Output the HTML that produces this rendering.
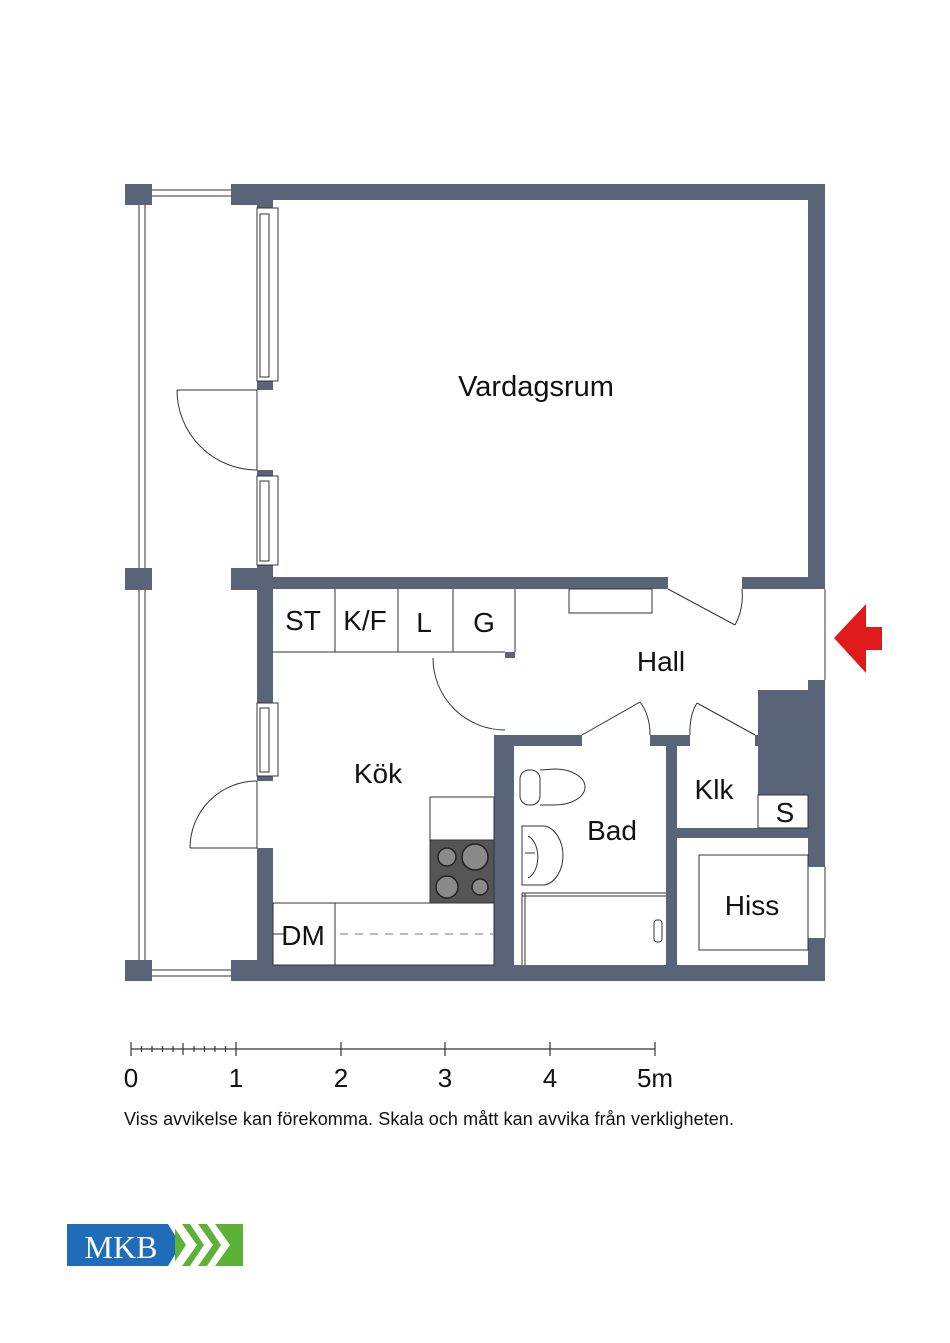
<!DOCTYPE html>
<html><head><meta charset="utf-8"><style>
html,body{margin:0;padding:0;background:#fff;}
svg{display:block;}
text{font-family:"Liberation Sans",sans-serif;fill:#111;}
</style></head><body>
<svg width="950" height="1343" viewBox="0 0 950 1343" xmlns="http://www.w3.org/2000/svg">
<g fill="#5a6478" stroke="none">
 <rect x="231" y="184" width="594" height="16"/>
 <rect x="231" y="184" width="42" height="21"/>
 <rect x="808" y="184" width="17" height="405"/>
 <rect x="257" y="200" width="16" height="8"/>
 <rect x="257" y="381" width="16" height="9"/>
 <rect x="257" y="470" width="16" height="6"/>
 <rect x="257" y="565" width="16" height="25"/>
 <rect x="231" y="568" width="42" height="22"/>
 <rect x="257" y="577" width="411" height="12"/>
 <rect x="742" y="577" width="83" height="12"/>
 <rect x="257" y="590" width="16" height="113"/>
 <rect x="257" y="776" width="16" height="5"/>
 <rect x="257" y="848" width="16" height="133"/>
 <rect x="231" y="965" width="594" height="16"/>
 <rect x="231" y="960" width="42" height="21"/>
 <rect x="494" y="735" width="20" height="235"/>
 <rect x="494" y="735" width="88" height="11"/>
 <rect x="505" y="652" width="10" height="6"/>
 <rect x="650" y="735" width="40" height="11"/>
 <rect x="666" y="735" width="11" height="235"/>
 <rect x="666" y="828" width="150" height="10"/>
 <rect x="758" y="690" width="67" height="105"/>
 <rect x="808" y="680" width="17" height="187"/>
 <rect x="808" y="938" width="17" height="43"/>
 <rect x="755" y="735" width="6" height="11"/>
 <rect x="125" y="184" width="27" height="21"/>
 <rect x="125" y="568" width="27" height="22"/>
 <rect x="125" y="960" width="27" height="21"/>
</g>
<g fill="none" stroke="#333" stroke-width="1">
 <line x1="139" y1="205" x2="139" y2="568"/><line x1="145" y1="205" x2="145" y2="568"/>
 <line x1="139" y1="590" x2="139" y2="960"/><line x1="145" y1="590" x2="145" y2="960"/>
 <line x1="152" y1="190" x2="231" y2="190"/><line x1="152" y1="196" x2="231" y2="196"/>
 <line x1="152" y1="970" x2="231" y2="970"/><line x1="152" y1="976" x2="231" y2="976"/>
 <rect x="257" y="208" width="21" height="173"/><rect x="260" y="214" width="9" height="163"/>
 <rect x="257" y="476" width="21" height="89"/><rect x="260" y="481" width="9" height="80"/>
 <rect x="257" y="703" width="21" height="73"/><rect x="260" y="708" width="9" height="64"/>
 <line x1="257" y1="390" x2="257" y2="470"/>
 <line x1="177" y1="390" x2="257" y2="390"/>
 <path d="M177 390 A80 80 0 0 0 257 470"/>
 <line x1="257" y1="781" x2="257" y2="848"/>
 <line x1="190" y1="848" x2="257" y2="848"/>
 <path d="M257 781 A67 67 0 0 0 190 848"/>
 <line x1="273" y1="652" x2="505" y2="652"/>
 <line x1="335" y1="589" x2="335" y2="652"/>
 <line x1="398" y1="589" x2="398" y2="652"/>
 <line x1="453" y1="589" x2="453" y2="652"/>
 <line x1="515" y1="589" x2="515" y2="652"/>
 <path d="M433 658 A72 72 0 0 0 505 730"/>
 <rect x="430" y="797" width="64" height="43"/>
 <rect x="273" y="903" width="221" height="62"/>
 <line x1="335" y1="903" x2="335" y2="965"/>
 <line x1="273" y1="934" x2="284" y2="934"/>
 <line x1="340" y1="934" x2="494" y2="934" stroke="#777" stroke-dasharray="8,7"/>
 <rect x="569" y="589" width="83" height="24"/>
 <line x1="668" y1="589" x2="735" y2="625"/>
 <path d="M735 625 Q744 608 742 589"/>
 <line x1="582" y1="735" x2="640" y2="702"/>
 <path d="M640 702 Q650 715 650 735"/>
 <line x1="755" y1="735" x2="697" y2="703"/>
 <path d="M697 703 Q689 716 690 735"/>
 <line x1="825" y1="589" x2="825" y2="680"/>
 <line x1="825" y1="867" x2="825" y2="938"/>
 <rect x="758" y="795" width="50" height="33" fill="#fff"/>
 <rect x="699" y="855" width="109" height="95"/>
 <rect x="520" y="770" width="20" height="35" rx="9"/>
 <path d="M540 770 L555 769 A30 18 0 0 1 555 805 L540 805"/>
 <path d="M522 826 L545 826 A22 30 0 0 1 545 885 L522 885 Z"/>
 <path d="M528 836 A14 22 0 0 1 528 878"/>
 <line x1="525" y1="853" x2="535" y2="853"/>
 <line x1="522" y1="893" x2="666" y2="893"/><line x1="522" y1="896" x2="666" y2="896"/>
 <line x1="522" y1="893" x2="522" y2="965"/><line x1="525" y1="893" x2="525" y2="965"/>
 <rect x="654" y="920" width="8" height="22" rx="3"/>
</g>
<rect x="430" y="840" width="64" height="63" fill="#555" stroke="#333"/>
<g fill="#8a8a8a" stroke="#222" stroke-width="1.5">
 <circle cx="447" cy="857" r="9"/><circle cx="475" cy="857" r="13"/>
 <circle cx="447" cy="887" r="11"/><circle cx="480" cy="887" r="8"/>
</g>
<polygon points="834,638 866,604 866,627 882,627 882,650 866,650 866,673" fill="#e0191b"/>
<g font-size="29" text-anchor="middle">
 <text x="536" y="396">Vardagsrum</text>
</g>
<g font-size="28" text-anchor="middle">
 <text x="661" y="671">Hall</text>
 <text x="378" y="783">Kök</text>
 <text x="612" y="840">Bad</text>
 <text x="714" y="799">Klk</text>
 <text x="785" y="822">S</text>
 <text x="752" y="915">Hiss</text>
 <text x="303" y="945">DM</text>
 <text x="303" y="630">ST</text>
 <text x="365" y="630">K/F</text>
 <text x="424" y="632">L</text>
 <text x="484" y="632">G</text>
</g>
<g stroke="#333" stroke-width="1.2">
 <line x1="131" y1="1049" x2="655" y2="1049"/>
 <line x1="131" y1="1042" x2="131" y2="1056"/><line x1="236" y1="1042" x2="236" y2="1056"/>
 <line x1="341" y1="1042" x2="341" y2="1056"/><line x1="445" y1="1042" x2="445" y2="1056"/>
 <line x1="550" y1="1042" x2="550" y2="1056"/><line x1="655" y1="1042" x2="655" y2="1056"/>
 <line x1="183" y1="1043" x2="183" y2="1055"/>
 <line x1="141.5" y1="1046" x2="141.5" y2="1052"/><line x1="152" y1="1046" x2="152" y2="1052"/>
 <line x1="162.5" y1="1046" x2="162.5" y2="1052"/><line x1="173" y1="1046" x2="173" y2="1052"/>
 <line x1="194" y1="1046" x2="194" y2="1052"/><line x1="204.5" y1="1046" x2="204.5" y2="1052"/>
 <line x1="215" y1="1046" x2="215" y2="1052"/><line x1="225.5" y1="1046" x2="225.5" y2="1052"/>
</g>
<g font-size="26" text-anchor="middle">
 <text x="131" y="1087">0</text><text x="236" y="1087">1</text><text x="341" y="1087">2</text>
 <text x="445" y="1087">3</text><text x="550" y="1087">4</text><text x="655" y="1087">5m</text>
</g>
<text x="124" y="1125" font-size="18" textLength="610">Viss avvikelse kan förekomma. Skala och mått kan avvika från verkligheten.</text>
<polygon points="67,1224 168,1224 181,1245 168,1266 67,1266" fill="#1f6db8"/>
<text x="121" y="1258" font-size="32" text-anchor="middle" style="font-family:'Liberation Serif',serif;fill:#fff">MKB</text>
<rect x="175" y="1224" width="68" height="42" fill="#5cb137"/>
<g fill="#fff">
 <polygon points="172,1224 182,1224 197,1245 182,1266 172,1266 186,1245"/>
 <polygon points="190,1224 198,1224 213,1245 198,1266 190,1266 204,1245"/>
 <polygon points="207,1224 215,1224 230,1245 215,1266 207,1266 221,1245"/>
</g>
</svg>
</body></html>
